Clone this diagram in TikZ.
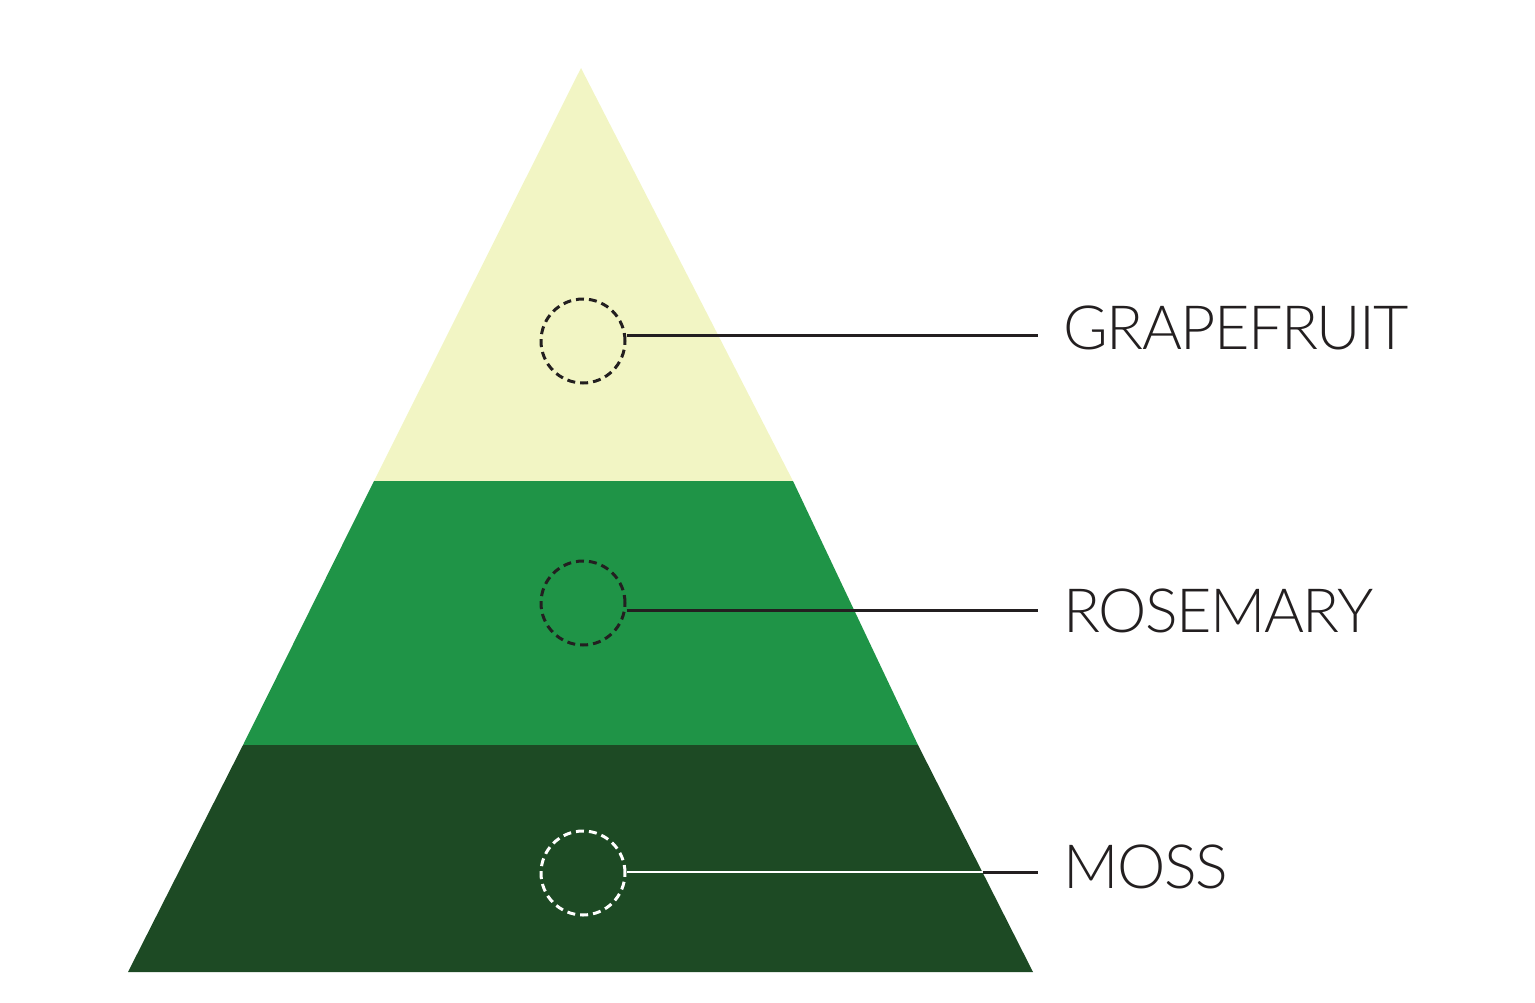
\documentclass[tikz,border=0pt]{standalone}
\usepackage{fontspec}
\setmainfont{Lato}[UprightFont=* Light,LetterSpace=-2.5]
\usetikzlibrary{positioning}
\definecolor{peel}{HTML}{F2F5C4}
\definecolor{leaf}{HTML}{1F9447}
\definecolor{forest}{HTML}{1D4A24}
\definecolor{ink}{HTML}{231F20}

\begin{document}
\begin{tikzpicture}[x=1pt,y=-1pt,line width=3pt]
  \tikzstyle{note}=[circle,draw=ink,dash pattern=on 8pt off 5pt,minimum size=84pt,inner sep=0pt]
  \tikzstyle{tag}=[anchor=base west,inner sep=0pt,text=ink,font=\fontsize{61}{70}\selectfont]
  \useasboundingbox (0,0) rectangle (1535,1002);

  % layers of the pyramid
  \fill[peel]   (581,68) -- (793,481) -- (374,481) -- cycle;
  \fill[leaf]   (374,481) -- (793,481) -- (918,745) -- (243,745) -- cycle;
  \fill[forest] (243,745) -- (918,745) -- (1033,972) -- (128,972) -- cycle;

  \node[note]          (top) at (583,341) {};
  \node[note]          (mid) at (583,603) {};
  \node[note,draw=white] (base) at (583,873) {};

  \node[tag] (grapefruit) at (1062,349) {GRAPEFRUIT};
  \node[tag] (rosemary)   at (1062,632) {ROSEMARY};
  \node[tag] (moss)       at (1062,888) {MOSS};

  \coordinate (topend)  at (1038,335);
  \coordinate (midend)  at (1038,610);
  \coordinate (baseend) at (1038,872);
  \coordinate (edge)    at (983,872);

  \draw[ink] (topend -| top.east) -- (topend);
  \draw[ink] (midend -| mid.east) -- (midend);
  \draw[white,line width=2pt] (edge -| base.east) -- (edge);
  \draw[ink] (edge) -- (baseend);
\end{tikzpicture}
\end{document}
